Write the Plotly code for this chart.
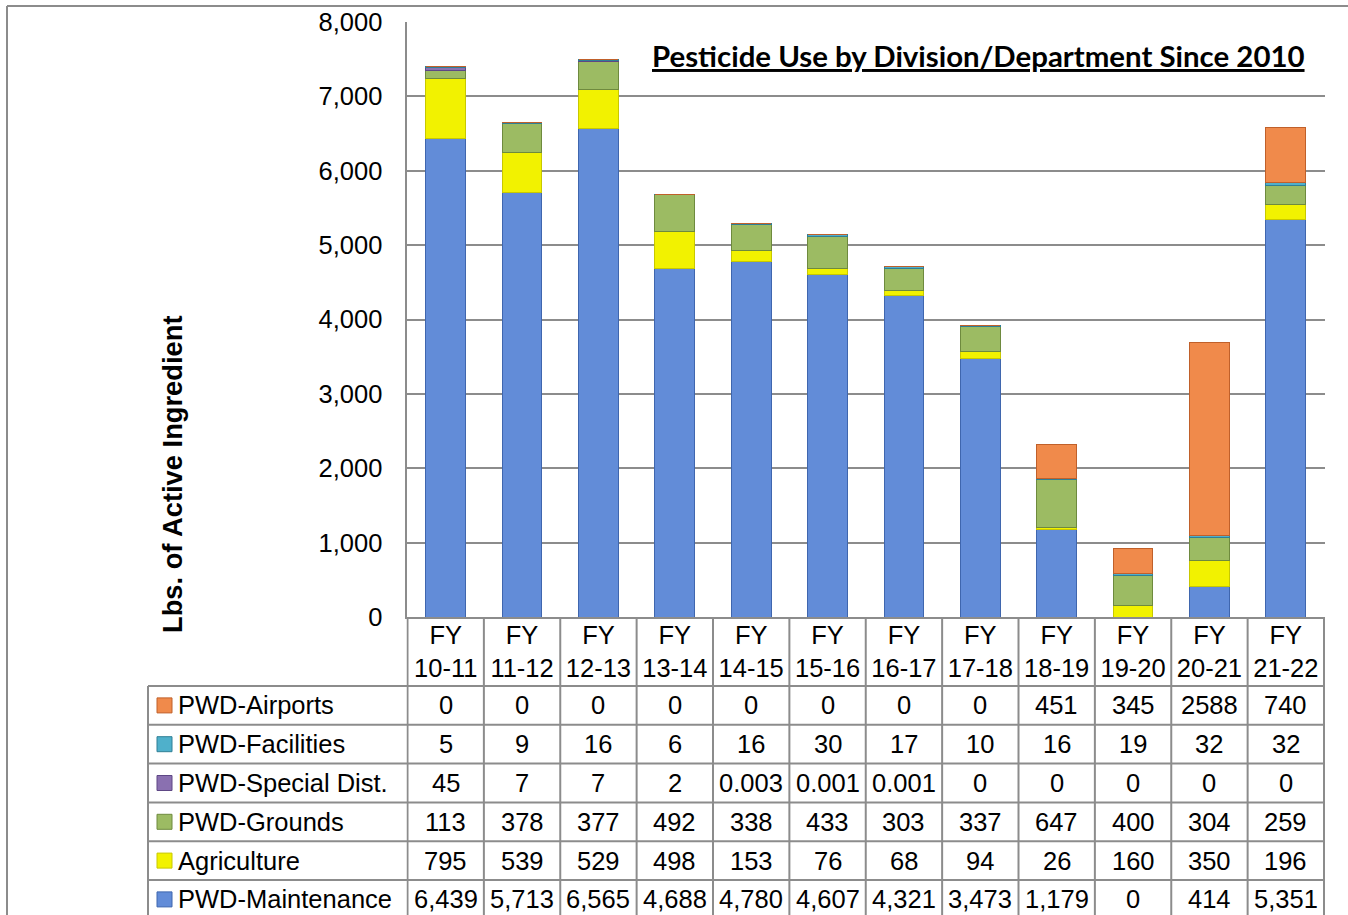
import plotly.graph_objects as go

# Figure size in pixels
W, H = 1348, 915

# Fiscal years (x categories)
fiscal_years = ["10-11", "11-12", "12-13", "13-14", "14-15", "15-16",
                "16-17", "17-18", "18-19", "19-20", "20-21", "21-22"]

# Pounds of active ingredient by division/department
maintenance = [6439, 5713, 6565, 4688, 4780, 4607, 4321, 3473, 1179, 0, 414, 5351]
agriculture = [795, 539, 529, 498, 153, 76, 68, 94, 26, 160, 350, 196]
grounds = [113, 378, 377, 492, 338, 433, 303, 337, 647, 400, 304, 259]
special_dist = [45, 7, 7, 2, 0.003, 0.001, 0.001, 0, 0, 0, 0, 0]
facilities = [5, 9, 16, 6, 16, 30, 17, 10, 16, 19, 32, 32]
airports = [0, 0, 0, 0, 0, 0, 0, 0, 451, 345, 2588, 740]

y_ticks = [0, 1000, 2000, 3000, 4000, 5000, 6000, 7000, 8000]

# Stack order: bottom first
series = [
    ("PWD-Maintenance", maintenance, "#628CD8", "#3F66AE", True),
    ("Agriculture", agriculture, "#F2F200", "#C8C800", False),
    ("PWD-Grounds", grounds, "#9CBB63", "#6E8A3E", False),
    ("PWD-Special Dist.", special_dist, "#8A70B0", "#5E4785", False),
    ("PWD-Facilities", facilities, "#4FB0CB", "#2F7F96", False),
    ("PWD-Airports", airports, "#F08A4B", "#C0602A", False),
]

categories = ["FY " + fy for fy in fiscal_years]
tick_text = ["FY<br>" + fy for fy in fiscal_years]

GRID = "#8C8C8C"
FONT = "Liberation Sans, Arial, sans-serif"
FS = 25.5


def px(x):
    return x / W


def py(y):
    return 1 - y / H


fig = go.Figure()
for name, vals, color, edge, _ in series:
    fig.add_trace(go.Bar(
        x=categories, y=vals, name=name,
        marker=dict(color=color, line=dict(color=edge, width=1)),
        showlegend=False,
    ))

# Plot area in pixels
PLOT_L, PLOT_R = 406.5, 1325
PLOT_T, PLOT_B = 22, 617

fig.update_layout(
    width=W, height=H,
    margin=dict(l=0, r=0, t=0, b=0, autoexpand=False),
    paper_bgcolor="white", plot_bgcolor="white",
    barmode="stack", bargap=0.48,
    xaxis=dict(
        domain=[px(PLOT_L), px(PLOT_R)], automargin=False,
        tickmode="array", tickvals=categories, ticktext=tick_text,
        tickfont=dict(family=FONT, size=FS, color="black"),
        showline=True, linecolor=GRID, linewidth=2,
        showgrid=False, ticks="", ticklabelstandoff=-6,
    ),
    yaxis=dict(
        domain=[py(PLOT_B), py(PLOT_T)], automargin=False,
        range=[0, 8000], tickvals=y_ticks, tickformat=",",
        tickfont=dict(family=FONT, size=FS, color="black"),
        showline=True, linecolor=GRID, linewidth=2,
        showgrid=True, gridcolor=GRID, gridwidth=1.5,
        zeroline=False, ticks="", ticklabelstandoff=17,
    ),
)

shapes = []
annotations = []

# Outer frame (top and left edges)
shapes.append(dict(type="line", xref="paper", yref="paper",
                   x0=px(7), x1=px(W + 5), y0=py(6), y1=py(6),
                   line=dict(color=GRID, width=2)))
shapes.append(dict(type="line", xref="paper", yref="paper",
                   x0=px(7), x1=px(7), y0=py(6), y1=py(H + 5),
                   line=dict(color=GRID, width=2)))

# Data table below the chart
TABLE_L = 148
HEADER_B = 686
ROW_H = 38.8
n_rows = len(series)
table_bottom = HEADER_B + ROW_H * n_rows

for r in range(n_rows + 1):
    yl = HEADER_B + r * ROW_H
    shapes.append(dict(type="line", xref="paper", yref="paper",
                       x0=px(TABLE_L), x1=px(PLOT_R), y0=py(yl), y1=py(yl),
                       line=dict(color=GRID, width=2)))

shapes.append(dict(type="line", xref="paper", yref="paper",
                   x0=px(TABLE_L), x1=px(TABLE_L), y0=py(HEADER_B), y1=py(table_bottom),
                   line=dict(color=GRID, width=2)))
for k in range(len(categories) + 1):
    shapes.append(dict(type="line", xref="x", yref="paper",
                       x0=k - 0.5, x1=k - 0.5, y0=py(PLOT_B), y1=py(table_bottom),
                       line=dict(color=GRID, width=2)))

# Rows listed top to bottom (reverse of stack order)
for r, (name, vals, color, edge, use_commas) in enumerate(reversed(series)):
    yc = HEADER_B + (r + 0.5) * ROW_H
    shapes.append(dict(type="rect", xref="paper", yref="paper",
                       x0=px(157), x1=px(172), y0=py(yc - 7.5), y1=py(yc + 7.5),
                       fillcolor=color, line=dict(color=edge, width=1)))
    annotations.append(dict(xref="paper", yref="paper", x=px(176), y=py(yc),
                            xanchor="left", yanchor="middle", showarrow=False,
                            text=name, font=dict(family=FONT, size=FS, color="black")))
    for i, v in enumerate(vals):
        label = f"{v:,}" if use_commas else f"{v:g}"
        annotations.append(dict(xref="x", yref="paper", x=categories[i], y=py(yc),
                                xanchor="center", yanchor="middle", showarrow=False,
                                text=label, font=dict(family=FONT, size=FS, color="black")))

# Titles
annotations.append(dict(xref="paper", yref="paper", x=px(979), y=py(56),
                        xanchor="center", yanchor="middle", showarrow=False,
                        text="<b><u>Pesticide Use by Division/Department Since 2010</u></b>",
                        font=dict(family="Lato, Carlito, Calibri, sans-serif", size=29.4, color="black")))
annotations.append(dict(xref="paper", yref="paper", x=px(172), y=py(474),
                        xanchor="center", yanchor="middle", showarrow=False, textangle=-90,
                        text="<b>Lbs. of Active Ingredient</b>",
                        font=dict(family=FONT, size=27.3, color="black")))

fig.update_layout(shapes=shapes, annotations=annotations)

fig.write_html("out.html")
